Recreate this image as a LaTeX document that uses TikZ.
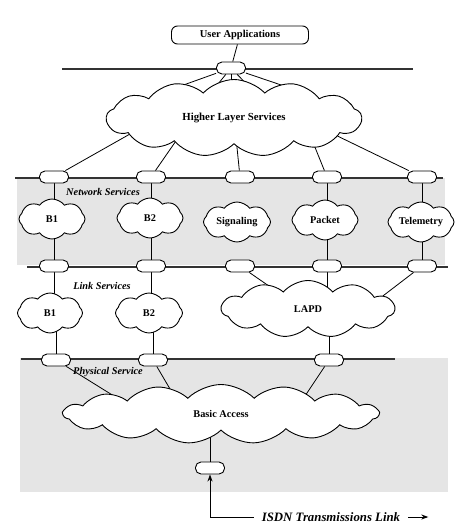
\documentclass[tikz,border=0pt]{standalone}
\usepackage{fontspec}
\setmainfont{Liberation Serif}
\usetikzlibrary{shapes.symbols,arrows.meta}
\pgfdeclarelayer{bg}\pgfdeclarelayer{ln}
\pgfsetlayers{bg,ln,main}
\begin{document}
\begin{tikzpicture}[x=1pt,y=-1pt,
 port/.style={draw, fill=white, rounded corners=5.5pt, minimum width=29pt, minimum height=12pt, inner sep=0pt, line width=0.9pt},
 cl/.style={cloud, cloud puffs=#1, cloud puff arc=105, cloud ignores aspect, draw, fill=white, line width=0.9pt, inner sep=0pt, font=\bfseries\fontsize{10.3}{11}\selectfont},
 bus/.style={line width=1.1pt, draw=black!80},
 wire/.style={line width=0.8pt},
 lay/.style={font=\bfseries\itshape\fontsize{10.3}{11}\selectfont, inner sep=1pt},
 band/.style={fill=black!10, draw=none}]
\useasboundingbox (0,0) rectangle (468,524);

% ---------- nodes ----------
\node[draw, fill=white, rounded corners=6pt, line width=0.9pt, minimum width=137pt, minimum height=18pt, inner sep=0pt, font=\bfseries\fontsize{10.5}{11}\selectfont] (ua) at (240,35) {User Applications};
\node[port] (pt) at (231,68) {};

\node[cl=13, cloud puff arc=95, minimum width=255pt, minimum height=77pt, font=\bfseries\fontsize{10.8}{11}\selectfont] (hls) at (234,118) {Higher Layer Services};

% network service ports
\node[port] (n1) at (54,177) {};
\node[port] (n2) at (151,177) {};
\node[port] (n3) at (240,177) {};
\node[port] (n4) at (327,177) {};
\node[port] (n5) at (422,177) {};

\node[cl=8, minimum width=66pt, minimum height=40pt] (nb1) at (52,219) {B1};
\node[cl=8, minimum width=66pt, minimum height=40pt] (nb2) at (150,218) {B2};
\node[cl=8, minimum width=67pt, minimum height=40pt] (nsig) at (237,222) {Signaling};
\node[cl=8, minimum width=66pt, minimum height=40pt] (npk) at (325,220) {Packet};
\node[cl=8, minimum width=66pt, minimum height=40pt] (ntel) at (421,222) {Telemetry};

% link service ports
\node[port] (l1) at (54,266) {};
\node[port] (l2) at (151,266) {};
\node[port] (l3) at (240,266) {};
\node[port] (l4) at (327,266) {};
\node[port] (l5) at (422,266) {};

\node[cl=8, minimum width=65pt, minimum height=40pt] (lb1) at (50,313) {B1};
\node[cl=8, minimum width=67pt, minimum height=40pt] (lb2) at (149,313) {B2};
\node[cl=11, cloud puff arc=100, minimum width=173pt, minimum height=57pt] (lapd) at (308,309) {LAPD};

% physical service ports
\node[port] (f1) at (56,360) {};
\node[port] (f2) at (153,360) {};
\node[port] (f3) at (329,360) {};

\node[cl=15, cloud puff arc=90, minimum width=315pt, minimum height=59pt] (ba) at (221,414) {Basic Access};
\node[port] (fb) at (210,468) {};

% layer labels
\node[lay] (tn) at (103,192) {Network Services};
\node[lay] (tl) at (102,286) {Link Services};
\node[lay] (tp) at (108,372) {Physical Service};

\node[font=\bfseries\itshape\fontsize{12.8}{14}\selectfont, inner sep=0pt] (isdn) at (331,517) {ISDN Transmissions Link};

% ---------- background bands ----------
\begin{pgfonlayer}{bg}
 \fill[band] (17,178) rectangle (445,265);
 \fill[band] (20,358) rectangle (448,492);
\end{pgfonlayer}

% ---------- buses and wires ----------
\begin{pgfonlayer}{ln}
 \coordinate (t0) at (62,69);  \coordinate (t1) at (413,69);
 \coordinate (nl0) at (15,178); \coordinate (nl1) at (443,178);
 \coordinate (ll0) at (27,267); \coordinate (ll1) at (448,267);
 \coordinate (pl0) at (21,359); \coordinate (pl1) at (395,359);
 \draw[bus] (t0) -- (t1);
 \draw[bus] (nl0) -- (nl1);
 \draw[bus] (ll0) -- (ll1);
 \draw[bus] (pl0) -- (pl1);

 \draw[wire] (ua) -- (pt);
 % top port to higher layer services
 \coordinate (h1) at (150,97);
 \coordinate (h2) at (205,100);
 \coordinate (h3) at (231,100);
 \coordinate (h4) at (262,100);
 \coordinate (h5) at (290,88);
 \draw[wire] (pt) -- (h1);
 \draw[wire] (pt) -- (h2);
 \draw[wire] (pt) -- (h3);
 \draw[wire] (pt) -- (h4);
 \draw[wire] (pt) -- (h5);
 % higher layer services to network ports
 \coordinate (g1) at (130,134);
 \draw[wire] (n1) -- (g1);
 \coordinate (g2) at (178,138);
 \draw[wire] (n2) -- (g2);
 \draw[wire] (n3) -- (hls.center);
 \coordinate (g4) at (308,130);
 \draw[wire] (n4) -- (g4);
 \coordinate (g5) at (325,130);
 \draw[wire] (n5) -- (g5);
 % network ports to network clouds
 \draw[wire] (n1) -- (n1 |- nb1.center);
 \draw[wire] (n2) -- (n2 |- nb2.center);
 \draw[wire] (n4) -- (n4 |- npk.center);
 \draw[wire] (n5) -- (n5 |- ntel.center);
 % network clouds to link ports
 \draw[wire] (l1) -- (l1 |- nb1.center);
 \draw[wire] (l2) -- (l2 |- nb2.center);
 \draw[wire] (l4) -- (l4 |- npk.center);
 \draw[wire] (l5) -- (l5 |- ntel.center);
 % link ports to link clouds
 \draw[wire] (l1) -- (l1 |- lb1.center);
 \draw[wire] (l2) -- (l2 |- lb2.center);
 \coordinate (a3) at (292,302);
 \draw[wire] (l3) -- (a3);
 \draw[wire] (l4) -- (l4 |- lapd.center);
 \coordinate (a5) at (375,302);
 \draw[wire] (l5) -- (a5);
 % link clouds to physical ports
 \draw[wire] (f1) -- (f1 |- lb1.center);
 \draw[wire] (f2) -- (f2 |- lb2.center);
 \draw[wire] (f3) -- (f3 |- lapd.center);
 % physical ports to basic access
 \coordinate (b1) at (130,406);
 \coordinate (b2) at (180,406);
 \coordinate (b3) at (305,396);
 \draw[wire] (f1) -- (b1);
 \draw[wire] (f2) -- (b2);
 \draw[wire] (f3) -- (b3);
 \draw[wire] (fb) -- (fb |- ba.center);
\end{pgfonlayer}

% ISDN link arrow
\draw[wire, -{Stealth[length=7pt,width=5pt]}] ([xshift=-8pt]isdn.west) -| (fb.south);
\draw[line width=1pt, -{Stealth[length=7pt,width=5pt]}] ([xshift=8pt]isdn.east) -- ++(20,0);
\end{tikzpicture}
\end{document}
